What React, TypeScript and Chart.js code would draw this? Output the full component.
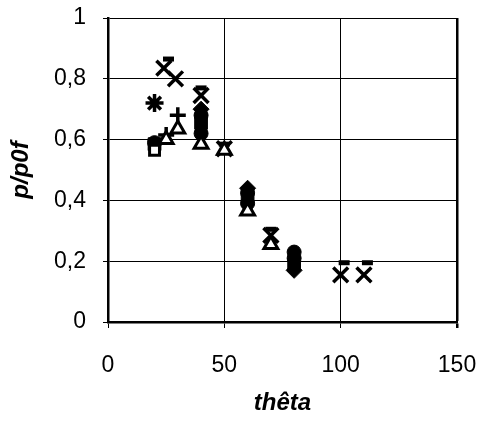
import React, { useEffect, useRef } from "react";
import { Chart, registerables } from "chart.js";
Chart.register(...registerables);

const xTicks = [0, 50, 100, 150];
const yTicks = [0, 0.2, 0.4, 0.6, 0.8, 1];

const diamondPts = [
  { x: 40, y: 0.70 },
  { x: 60, y: 0.44 },
  { x: 80, y: 0.17 },
];
const squarePts = [
  { x: 20, y: 0.585 },
  { x: 40, y: 0.655 },
  { x: 60, y: 0.405 },
  { x: 80, y: 0.19 },
];
const openSquarePts = [{ x: 20, y: 0.565 }];
const trianglePts = [
  { x: 25, y: 0.6 },
  { x: 30, y: 0.635 },
  { x: 40, y: 0.585 },
  { x: 50, y: 0.565 },
  { x: 60, y: 0.365 },
  { x: 70, y: 0.255 },
];
const crossPts = [
  { x: 24, y: 0.835 },
  { x: 29, y: 0.8 },
  { x: 40, y: 0.745 },
  { x: 50, y: 0.57 },
  { x: 70, y: 0.285 },
  { x: 100, y: 0.155 },
  { x: 110, y: 0.155 },
];
const starPts = [{ x: 20, y: 0.72 }];
const circlePts = [
  { x: 20, y: 0.59 },
  { x: 40, y: 0.68 },
  { x: 40, y: 0.62 },
  { x: 60, y: 0.425 },
  { x: 60, y: 0.39 },
  { x: 80, y: 0.23 },
  { x: 80, y: 0.21 },
];
const plusPts = [
  { x: 25, y: 0.615 },
  { x: 30, y: 0.68 },
];
const dashPts = [
  { x: 26, y: 0.865 },
  { x: 40, y: 0.77 },
  { x: 50, y: 0.585 },
  { x: 70, y: 0.305 },
  { x: 101.5, y: 0.195 },
  { x: 111.5, y: 0.195 },
];

const fmtY = (v: number) =>
  v === 0 ? "0" : v === 1 ? "1" : v.toFixed(1).replace(".", ",");

const FONT = "'Liberation Sans', Arial, Helvetica, sans-serif";

export default function App() {
  const ref = useRef<HTMLCanvasElement>(null);
  useEffect(() => {
    if (!ref.current) return;
    const black = "#000";
    const ds = (data: any[], style: string, r: number, bw: number, fill = black) => ({
      data,
      showLine: false,
      pointStyle: style,
      pointRadius: r,
      pointBorderWidth: bw,
      pointBackgroundColor: fill,
      pointBorderColor: black,
      backgroundColor: fill,
      borderColor: black,
    });
    const chart = new Chart(ref.current, {
      type: "scatter",
      data: {
        datasets: [
          ds(trianglePts, "triangle", 8, 3, "#fff"),
          ds(openSquarePts, "rect", 7, 3, "#fff"),
          ds(crossPts, "crossRot", 10.5, 3.5),
          ds(plusPts, "cross", 8, 3.5),
          ds(starPts, "star", 9, 3.5),
          ds(dashPts, "line", 5.5, 5),
          ds(diamondPts, "rectRot", 8, 1),
          ds(squarePts, "rect", 9, 1),
          ds(circlePts, "circle", 7, 1),
        ],
      },
      options: {
        animation: false,
        responsive: false,
        layout: { padding: { top: 18, right: 26, left: 0, bottom: 0 } },
        plugins: { legend: { display: false }, tooltip: { enabled: false } },
        scales: {
          x: {
            type: "linear",
            min: 0,
            max: 150,
            afterBuildTicks: (s: any) => {
              s.ticks = xTicks.map((v) => ({ value: v }));
            },
            afterFit: (s: any) => {
              s.height = 100;
              s.paddingLeft = 0;
              s.paddingRight = 0;
            },
            ticks: {
              color: black,
              font: { family: FONT, size: 23 },
              padding: 24,
              maxRotation: 0,
            },
            grid: {
              color: black,
              lineWidth: (c: any) => (c.tick && c.tick.value === 150 ? 2.5 : 1),
              tickLength: 6,
            },
            border: { display: true, color: black, width: 2.5 },
            title: {
              display: true,
              text: "thêta",
              color: black,
              font: { family: FONT, size: 24, weight: "bold", style: "italic" },
              padding: { top: 0, bottom: 4 },
            },
          },
          y: {
            type: "linear",
            min: 0,
            max: 1,
            afterBuildTicks: (s: any) => {
              s.ticks = yTicks.map((v) => ({ value: v }));
            },
            afterFit: (s: any) => {
              s.width = 108;
              s.paddingTop = 0;
              s.paddingBottom = 0;
            },
            ticks: {
              color: black,
              font: { family: FONT, size: 23 },
              padding: 17,
              callback: (v: any) => fmtY(Number(v)),
            },
            grid: { color: black, lineWidth: 1, tickLength: 5 },
            border: { display: true, color: black, width: 2.5 },
            title: {
              display: true,
              text: "p/p0f",
              color: black,
              font: { family: FONT, size: 24, weight: "bold", style: "italic" },
              padding: { top: 7, bottom: 0 },
            },
          },
        },
      },
    } as any);
    return () => chart.destroy();
  }, []);
  return (
    <div style={{ position: "absolute", left: 0, top: 0, width: 483, height: 422, background: "#fff" }}>
      <canvas ref={ref} width={483} height={422} />
    </div>
  );
}
